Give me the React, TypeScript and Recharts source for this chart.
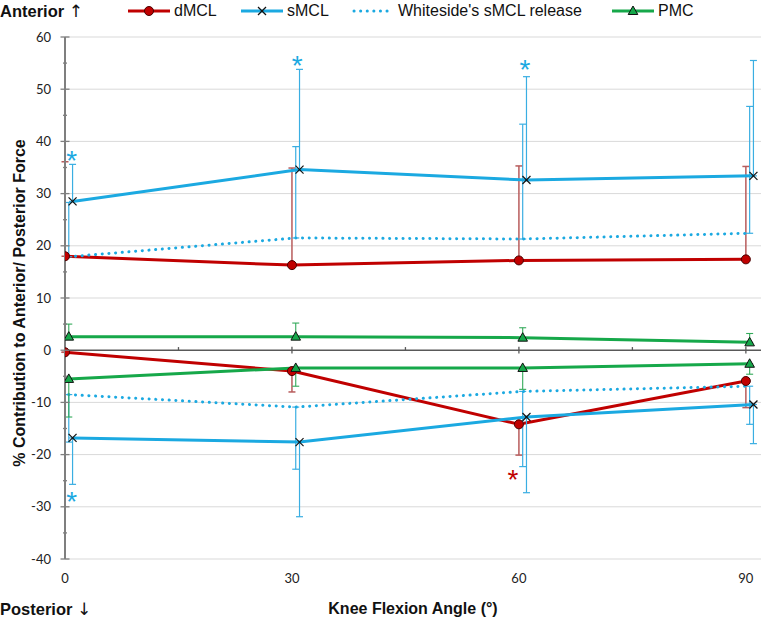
import React from 'react';
import { ComposedChart, Line, XAxis, YAxis, CartesianGrid, ErrorBar, ReferenceLine, ReferenceDot } from 'recharts';

const angles = [0, 30, 60, 90];

// anterior (positive) contributions with upward SD
const dmclAnt = [18.0, 16.3, 17.2, 17.4];
const dmclAntSd = [18.1, 18.6, 18.1, 17.8];
const smclAnt = [28.5, 34.6, 32.6, 33.4];
const smclAntSd = [7.1, 19.2, 19.8, 22.1];
const whiteAnt = [17.9, 21.5, 21.3, 22.4];
const whiteAntSd = [10.4, 17.5, 22.0, 24.3];
const pmcAnt = [2.6, 2.6, 2.4, 1.5];
const pmcAntSd = [2.4, 2.6, 1.9, 1.7];

// posterior (negative) contributions with downward SD
const dmclPost = [-0.4, -4.0, -14.2, -5.9];
const dmclPostSd = [0, 4.0, 5.9, 5.1];
const smclPost = [-16.8, -17.6, -12.8, -10.4];
const smclPostSd = [8.9, 14.3, 14.5, 7.5];
const whitePost = [-8.5, -10.9, -7.9, -6.9];
const whitePostSd = [9.1, 11.9, 14.4, 7.3];
const pmcPost = [-5.5, -3.4, -3.4, -2.6];
const pmcPostSd = [7.3, 3.5, 4.1, 2.0];

// small x shift per series so the bars don't overlap (degrees)
const dmclShift = 0;
const pmcShift = 0.5;
const whiteShift = 0.5;
const smclShift = 1;

const xTicks = [0, 30, 60, 90];
const xMajorMarks = [30, 60, 90];
const xMinorMarks = [15, 45, 75];
const yTicks = [-40, -35, -30, -25, -20, -15, -10, -5, 0, 5, 10, 15, 20, 25, 30, 35, 40, 45, 50, 55, 60];
const yGrid = [-40, -30, -20, -10, 10, 20, 30, 40, 50, 60];

// significance markers
const blueStars = [
  { x: 0.9, y: 37.6 },
  { x: 30.7, y: 55.8 },
  { x: 60.8, y: 55.0 },
  { x: 0.9, y: -27.8 },
];
const redStars = [{ x: 59.2, y: -23.6 }];

const RED = '#C00000';
const BLUE = '#1BA9E1';
const GREEN = '#16A84A';
const FONT = "'Liberation Sans', Arial, sans-serif";
const TICK_FONT = "Lato, 'Open Sans', sans-serif";
const ARROW_FONT = "'DejaVu Sans', sans-serif";

const build = (vals: number[], sd: number[], shift: number, up: boolean) =>
  angles.map((a, i) => ({ x: a + shift, y: vals[i], err: up ? [0, sd[i]] : [sd[i], 0] }));

const CircleDot = (p: any) => (
  <circle key={`c-${p.index}`} cx={p.cx} cy={p.cy} r={4.5} fill={RED} stroke="#4a0000" strokeWidth={1} />
);

const CrossDot = (p: any) => (
  <g key={`x-${p.index}`}>
    <line x1={p.cx - 4} y1={p.cy - 4} x2={p.cx + 4} y2={p.cy + 4} stroke="#111" strokeWidth={1.2} />
    <line x1={p.cx - 4} y1={p.cy + 4} x2={p.cx + 4} y2={p.cy - 4} stroke="#111" strokeWidth={1.2} />
  </g>
);

const TriDot = (p: any) => (
  <path
    key={`t-${p.index}`}
    d={`M${p.cx},${p.cy - 5} L${p.cx + 4.8},${p.cy + 3.5} L${p.cx - 4.8},${p.cy + 3.5} Z`}
    fill={GREEN}
    stroke="#111"
    strokeWidth={1}
  />
);

const YTick = ({ x, y, payload }: any) => {
  const v = payload.value;
  const major = v % 10 === 0;
  const h = major ? 4.5 : 2;
  return (
    <g>
      <line x1={x - h} x2={x + h} y1={y} y2={y} stroke="#7f7f7f" strokeWidth={1.3} />
      {major && (
        <text x={x - 14} y={y} dy="0.36em" textAnchor="end" fontSize={13} fontFamily={TICK_FONT} fill="#222">
          {String(v)}
        </text>
      )}
    </g>
  );
};

const XTick = ({ x, y, payload }: any) => (
  <text x={x} y={y + 24} textAnchor="middle" fontSize={13} fontFamily={TICK_FONT} fill="#222">
    {String(payload.value)}
  </text>
);

const starShape = (color: string) => (p: any) => (
  <text x={p.cx} y={p.cy} dy={16} textAnchor="middle" fontSize={28} fontFamily={FONT} fill={color}>
    *
  </text>
);

const LegendIcon = ({ kind }: { kind: string }) => {
  const color = kind === 'dmcl' ? RED : kind === 'pmc' ? GREEN : BLUE;
  return (
    <svg width={42} height={14} style={{ display: 'block' }}>
      {kind === 'white' ? (
        <line x1={2} y1={7} x2={40} y2={7} stroke={BLUE} strokeWidth={3} strokeDasharray="0.1 6.5" strokeLinecap="round" />
      ) : (
        <line x1={0} y1={7} x2={42} y2={7} stroke={color} strokeWidth={3} />
      )}
      {kind === 'dmcl' && <circle cx={21} cy={7} r={4.5} fill={RED} stroke="#4a0000" strokeWidth={1} />}
      {kind === 'smcl' && (
        <g>
          <line x1={17} y1={3} x2={25} y2={11} stroke="#111" strokeWidth={1.2} />
          <line x1={17} y1={11} x2={25} y2={3} stroke="#111" strokeWidth={1.2} />
        </g>
      )}
      {kind === 'pmc' && <path d="M21,2 L25.8,10.5 L16.2,10.5 Z" fill={GREEN} stroke="#111" strokeWidth={1} />}
    </svg>
  );
};

const legendItems = [
  { kind: 'dmcl', label: 'dMCL', left: 128 },
  { kind: 'smcl', label: 'sMCL', left: 241 },
  { kind: 'white', label: "Whiteside's sMCL release", left: 352 },
  { kind: 'pmc', label: 'PMC', left: 612 },
];

const titleStyle: React.CSSProperties = { position: 'absolute', fontSize: 16, fontWeight: 'bold', color: '#111', whiteSpace: 'nowrap' };

export default function App() {
  const lineProps = { type: 'linear' as const, strokeWidth: 3, activeDot: false, isAnimationActive: false, legendType: 'none' as const };
  return (
    <div style={{ position: 'absolute', left: 0, top: 0, width: 761, height: 622, background: '#fff', fontFamily: FONT }}>
      <ComposedChart width={761} height={622} margin={{ top: 37, right: 0, left: 10, bottom: 33 }}>
        <CartesianGrid vertical={false} stroke="#d9d9d9" horizontalValues={yGrid} />
        <XAxis
          type="number"
          dataKey="x"
          domain={[0, 92]}
          ticks={xTicks}
          allowDataOverflow
          axisLine={false}
          tickLine={false}
          tickSize={0}
          tickMargin={0}
          height={30}
          tick={<XTick />}
        />
        <YAxis
          type="number"
          domain={[-40, 60]}
          ticks={yTicks}
          interval={0}
          allowDataOverflow
          width={55}
          axisLine={{ stroke: '#7f7f7f', strokeWidth: 2 }}
          tickLine={false}
          tickSize={0}
          tickMargin={0}
          tick={<YTick />}
        />
        <ReferenceLine y={0} stroke="#595959" strokeWidth={1.5} ifOverflow="visible" />
        {xMajorMarks.map((v) => (
          <ReferenceLine key={`mj-${v}`} segment={[{ x: v, y: -0.65 }, { x: v, y: 0.65 }]} stroke="#595959" strokeWidth={1.3} ifOverflow="visible" />
        ))}
        {xMinorMarks.map((v) => (
          <ReferenceLine key={`mn-${v}`} segment={[{ x: v, y: 0 }, { x: v, y: 0.6 }]} stroke="#595959" strokeWidth={1.3} ifOverflow="visible" />
        ))}

        <Line {...lineProps} data={build(dmclAnt, dmclAntSd, dmclShift, true)} dataKey="y" stroke={RED} dot={CircleDot}>
          <ErrorBar dataKey="err" direction="y" width={3.5} stroke="#B85C5C" strokeWidth={1.5} isAnimationActive={false} />
        </Line>
        <Line {...lineProps} data={build(dmclPost, dmclPostSd, dmclShift, false)} dataKey="y" stroke={RED} dot={CircleDot}>
          <ErrorBar dataKey="err" direction="y" width={3.5} stroke="#B85C5C" strokeWidth={1.5} isAnimationActive={false} />
        </Line>

        <Line {...lineProps} data={build(whiteAnt, whiteAntSd, whiteShift, true)} dataKey="y" stroke={BLUE} strokeDasharray="0.1 6.6" strokeLinecap="round" dot={false}>
          <ErrorBar dataKey="err" direction="y" width={3.5} stroke="#3AAEE2" strokeWidth={1.2} isAnimationActive={false} />
        </Line>
        <Line {...lineProps} data={build(whitePost, whitePostSd, whiteShift, false)} dataKey="y" stroke={BLUE} strokeDasharray="0.1 6.6" strokeLinecap="round" dot={false}>
          <ErrorBar dataKey="err" direction="y" width={3.5} stroke="#3AAEE2" strokeWidth={1.2} isAnimationActive={false} />
        </Line>

        <Line {...lineProps} data={build(smclAnt, smclAntSd, smclShift, true)} dataKey="y" stroke={BLUE} dot={CrossDot}>
          <ErrorBar dataKey="err" direction="y" width={3.5} stroke="#3AAEE2" strokeWidth={1.2} isAnimationActive={false} />
        </Line>
        <Line {...lineProps} data={build(smclPost, smclPostSd, smclShift, false)} dataKey="y" stroke={BLUE} dot={CrossDot}>
          <ErrorBar dataKey="err" direction="y" width={3.5} stroke="#3AAEE2" strokeWidth={1.2} isAnimationActive={false} />
        </Line>

        <Line {...lineProps} data={build(pmcAnt, pmcAntSd, pmcShift, true)} dataKey="y" stroke={GREEN} dot={TriDot}>
          <ErrorBar dataKey="err" direction="y" width={3.5} stroke="#33AA5A" strokeWidth={1.1} isAnimationActive={false} />
        </Line>
        <Line {...lineProps} data={build(pmcPost, pmcPostSd, pmcShift, false)} dataKey="y" stroke={GREEN} dot={TriDot}>
          <ErrorBar dataKey="err" direction="y" width={3.5} stroke="#33AA5A" strokeWidth={1.1} isAnimationActive={false} />
        </Line>

        {blueStars.map((s, i) => (
          <ReferenceDot key={`bs-${i}`} x={s.x} y={s.y} shape={starShape(BLUE)} ifOverflow="visible" />
        ))}
        {redStars.map((s, i) => (
          <ReferenceDot key={`rs-${i}`} x={s.x} y={s.y} shape={starShape(RED)} ifOverflow="visible" />
        ))}
      </ComposedChart>

      {/* legend row */}
      {legendItems.map((it) => (
        <div key={it.kind} style={{ position: 'absolute', left: it.left, top: 3, display: 'flex', alignItems: 'center', gap: 4, fontSize: 16, color: '#111', lineHeight: '16px', whiteSpace: 'nowrap' }}>
          <LegendIcon kind={it.kind} />
          <span>{it.label}</span>
        </div>
      ))}

      <div style={{ ...titleStyle, left: 0, top: 1, fontSize: 16.5 }}>
        Anterior <span style={{ fontFamily: ARROW_FONT, fontWeight: 'normal', fontSize: 17 }}>↑</span>
      </div>
      <div style={{ ...titleStyle, left: 0, top: 599, fontSize: 16.5 }}>
        Posterior <span style={{ fontFamily: ARROW_FONT, fontWeight: 'normal', fontSize: 17 }}>↓</span>
      </div>
      <div style={{ ...titleStyle, left: 413, top: 609, transform: 'translate(-50%, -50%)' }}>Knee Flexion Angle (°)</div>
      <div style={{ ...titleStyle, left: 20, top: 303, transform: 'translate(-50%, -50%) rotate(-90deg)' }}>
        % Contribution to Anterior/ Posterior Force
      </div>
    </div>
  );
}
